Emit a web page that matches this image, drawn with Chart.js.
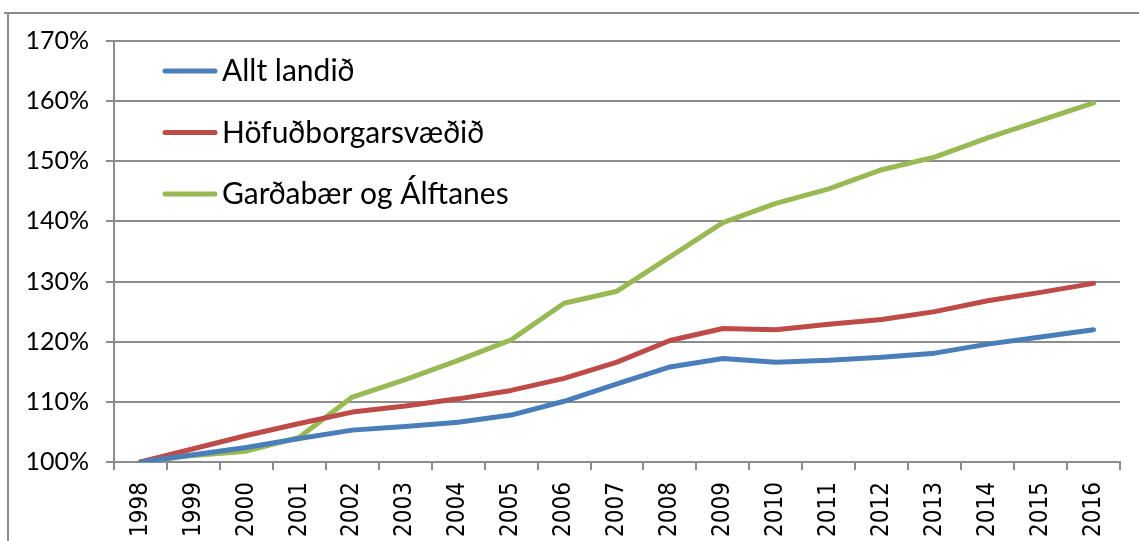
<!DOCTYPE html>
<html>
<head>
<meta charset="utf-8">
<script src="https://cdn.jsdelivr.net/npm/chart.js@4/dist/chart.umd.min.js"></script>
<style>
  html, body { margin: 0; padding: 0; background: #fff; }
  canvas { display: block; }
</style>
</head>
<body>
<canvas id="graf" width="1139" height="541"></canvas>
<script>
// === GÖGN ===
const years = ['1998', '1999', '2000', '2001', '2002', '2003', '2004', '2005', '2006', '2007',
  '2008', '2009', '2010', '2011', '2012', '2013', '2014', '2015', '2016'];
const alltLandid = [100, 101.2, 102.4, 103.9, 105.3, 105.9, 106.6, 107.8, 110.1, 113.0,
  115.8, 117.2, 116.6, 116.9, 117.4, 118.1, 119.6, 120.8, 122.0];
const hofudborgarsvaedid = [100, 102.2, 104.4, 106.4, 108.3, 109.3, 110.5, 111.9, 113.9, 116.6,
  120.2, 122.2, 122.0, 122.9, 123.7, 125.0, 126.8, 128.2, 129.7];
const gardabaer = [100, 101.1, 101.8, 104.1, 110.8, 113.7, 116.9, 120.3, 126.4, 128.4,
  134.1, 139.8, 143.0, 145.4, 148.6, 150.7, 153.9, 156.8, 159.7];
const yTicks = [100, 110, 120, 130, 140, 150, 160, 170];

const GRID = '#8c8c8c';

// rammi (efri og vinstri brún)
const ramma = {
  id: 'ramma',
  beforeDraw(chart) {
    const c = chart.ctx;
    c.save();
    c.strokeStyle = GRID;
    c.lineWidth = 2;
    c.beginPath();
    c.moveTo(4, 13); c.lineTo(chart.width, 13);
    c.moveTo(8, 13); c.lineTo(8, chart.height);
    c.stroke();
    c.restore();
  }
};

// skýringar inni í teiknisvæðinu
const skyringar = {
  id: 'skyringar',
  afterDatasetsDraw(chart) {
    const c = chart.ctx;
    const a = chart.chartArea;
    c.save();
    c.font = '30px Lato, "Open Sans", sans-serif';
    c.fillStyle = '#000';
    c.textAlign = 'left';
    c.textBaseline = 'alphabetic';
    chart.data.datasets.forEach((ds, i) => {
      const y = a.top + 30 + i * 61.5;
      const x = a.left + 51;
      c.strokeStyle = ds.borderColor;
      c.lineWidth = 5;
      c.lineCap = 'round';
      c.beginPath();
      c.moveTo(x, y); c.lineTo(x + 50, y);
      c.stroke();
      c.fillText(ds.label, x + 57, y + 10);
    });
    c.restore();
  }
};

const lina = (label, data, color) => ({
  label, data,
  borderColor: color,
  backgroundColor: color,
  borderWidth: 5,
  borderCapStyle: 'round',
  borderJoinStyle: 'round',
  pointRadius: 0,
  tension: 0,
  fill: false
});

new Chart(document.getElementById('graf').getContext('2d'), {
  type: 'line',
  data: {
    labels: years,
    datasets: [
      lina('Allt landið', alltLandid, '#4a7ebb'),
      lina('Höfuðborgarsvæðið', hofudborgarsvaedid, '#be4b48'),
      lina('Garðabær og Álftanes', gardabaer, '#98b954')
    ]
  },
  options: {
    responsive: false,
    animation: false,
    layout: { padding: { top: 41, right: 19, bottom: 0, left: 0 } },
    plugins: { legend: { display: false }, tooltip: { enabled: false } },
    scales: {
      x: {
        offset: true,
        afterFit: s => { s.height = 79; },
        grid: { offset: true, drawOnChartArea: false, drawTicks: true, tickLength: 8, color: GRID, lineWidth: 2 },
        border: { color: GRID, width: 2 },
        ticks: {
          minRotation: 90, maxRotation: 90, padding: 12, autoSkip: false,
          color: '#000',
          font: { family: '"Liberation Sans Narrow", "DejaVu Sans Condensed", sans-serif', size: 24 }
        }
      },
      y: {
        min: yTicks[0], max: yTicks[yTicks.length - 1],
        afterFit: s => { s.width = 114; },
        afterBuildTicks: s => { s.ticks = yTicks.map(v => ({ value: v })); },
        grid: { color: GRID, lineWidth: 2, tickLength: 8 },
        border: { color: GRID, width: 2 },
        ticks: {
          padding: 17,
          color: '#000',
          font: { family: 'Lato, "Open Sans", sans-serif', size: 25 },
          callback: v => v + '%'
        }
      }
    }
  },
  plugins: [ramma, skyringar]
});
</script>
</body>
</html>
